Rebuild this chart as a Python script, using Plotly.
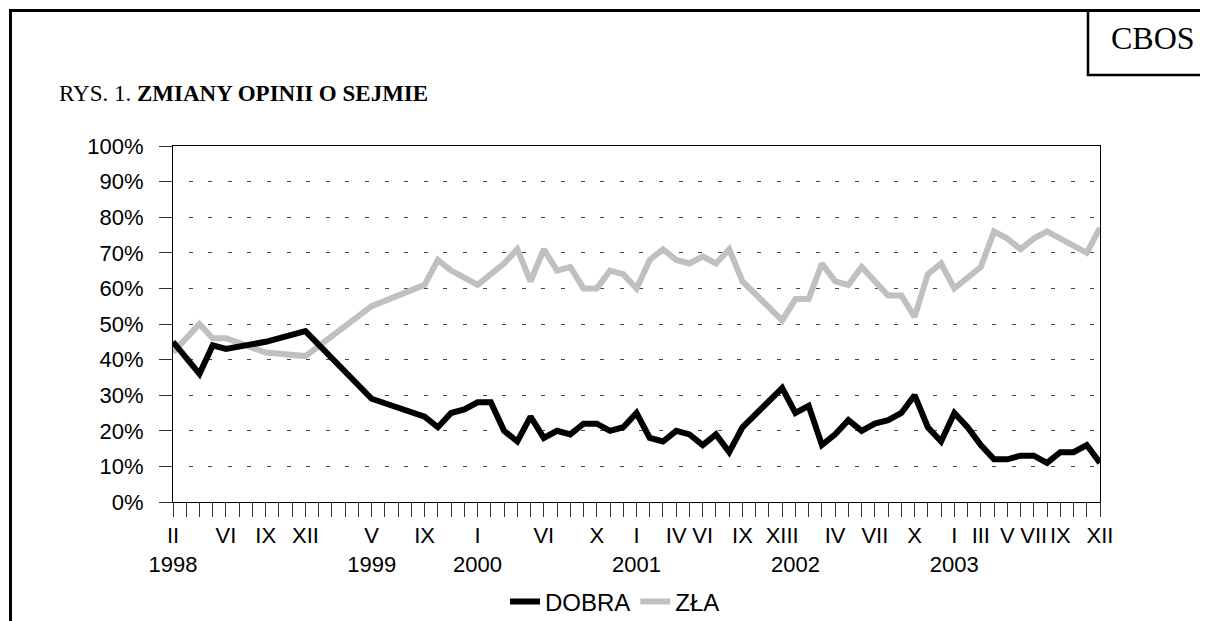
import plotly.graph_objects as go

# ---- data (monthly positions II 1998 .. XII 2003; None = no survey shown) ----
tick_labels = [
    "II<br>1998", "", "", "", "VI", "", "", "IX", "", "", "XII",          # 0-10  (1998)
    "", "", "", "", "V<br>1999", "", "", "", "IX", "", "", "",             # 11-22 (1999)
    "I<br>2000", "", "", "", "", "VI", "", "", "", "X", "", "",            # 23-34 (2000)
    "I<br>2001", "", "", "IV", "", "VI", "", "", "IX", "", "", "XIII",     # 35-46 (2001)
    "\u00a0<br>2002", "", "", "IV", "", "", "VII", "", "", "X", "", "",    # 47-58 (2002)
    "I<br>2003", "", "III", "", "V", "", "VII", "", "IX", "", "", "XII",   # 59-70 (2003)
]

dobra = [
    45, None, 36, 44, 43, None, None, 45, None, None, 48,
    None, None, None, None, 29, None, None, None, 24, 21, 25, 26,
    28, 28, 20, 17, 24, 18, 20, 19, 22, 22, 20, 21,
    25, 18, 17, 20, 19, 16, 19, 14, 21, None, None, 32,
    25, 27, 16, 19, 23, 20, 22, 23, 25, 30, 21, 17,
    25, 21, 16, 12, 12, 13, 13, 11, 14, 14, 16, 11,
]

zla = [
    42, None, 50, 46, 46, None, None, 42, None, None, 41,
    None, None, None, None, 55, None, None, None, 61, 68, 65, 63,
    61, 64, 67, 71, 62, 71, 65, 66, 60, 60, 65, 64,
    60, 68, 71, 68, 67, 69, 67, 71, 62, None, None, 51,
    57, 57, 67, 62, 61, 66, 62, 58, 58, 52, 64, 67,
    60, 63, 66, 76, 74, 71, 74, 76, 74, 72, 70, 77,
]

y_ticks = list(range(0, 101, 10))
y_tick_text = [f"{v}%" for v in y_ticks]

x_pos = list(range(len(tick_labels)))

# ---- layout geometry (pixels, page body has an 8px margin) ----
OFF = 8
W, H = 1208, 650
ML, MT = 173 - OFF, 146 - OFF
PW, PH = 927, 356
MR = W - ML - PW
MB = H - MT - PH

def px(x):  # page pixel x -> paper
    return (x - OFF - ML) / PW

def py(y):  # page pixel y -> paper
    return (MT + PH - (y - OFF)) / PH

SANS = "Liberation Sans, Arial, sans-serif"
SERIF = "Liberation Serif, Times New Roman, serif"

fig = go.Figure()
fig.add_trace(go.Scatter(
    x=x_pos, y=zla, name="ZŁA", mode="lines", connectgaps=True,
    line=dict(color="#c0c0c0", width=6), legendrank=2,
))
fig.add_trace(go.Scatter(
    x=x_pos, y=dobra, name="DOBRA", mode="lines", connectgaps=True,
    line=dict(color="#000000", width=6), legendrank=1,
))

fig.update_layout(
    width=W, height=H,
    margin=dict(l=ML, r=MR, t=MT, b=MB),
    paper_bgcolor="white", plot_bgcolor="white",
    font=dict(family=SANS, size=22, color="black"),
    showlegend=True,
    legend=dict(orientation="h", x=px(615), xanchor="center",
                y=py(602), yanchor="middle",
                font=dict(family=SANS, size=24), itemwidth=30,
                bgcolor="rgba(0,0,0,0)"),
    xaxis=dict(
        range=[0, len(tick_labels) - 1], tickmode="array",
        tickvals=x_pos, ticktext=tick_labels, tickangle=0,
        ticks="outside", ticklen=14, tickwidth=1, tickcolor="#333",
        showline=True, linecolor="black", linewidth=1, mirror=True,
        showgrid=False, zeroline=False,
        tickfont=dict(family=SANS, size=22),
    ),
    yaxis=dict(
        range=[0, 100], tickmode="array", tickvals=y_ticks, ticktext=y_tick_text,
        ticks="outside", ticklen=13, tickwidth=1, tickcolor="#333",
        showline=True, linecolor="black", linewidth=1, mirror=True,
        showgrid=True, gridcolor="#444", gridwidth=1, griddash="0px,15.6px,4px,0px",
        zeroline=False, ticklabelstandoff=11,
        tickfont=dict(family=SANS, size=22),
    ),
)

# outer frame and CBOS box
fig.add_shape(type="rect", xref="paper", yref="paper",
              x0=px(10.5), x1=px(1240), y0=py(10.5), y1=py(700),
              line=dict(color="black", width=3), layer="below")
fig.add_shape(type="rect", xref="paper", yref="paper",
              x0=px(1088), x1=px(1240), y0=py(10.5), y1=py(75),
              line=dict(color="black", width=2.5), layer="below")

fig.add_annotation(text="CBOS", xref="paper", yref="paper",
                   x=px(1153), y=py(37.5), xanchor="center", yanchor="middle",
                   showarrow=False, font=dict(family=SERIF, size=32, color="black"))
fig.add_annotation(text="RYS. 1. <b>ZMIANY OPINII O SEJMIE</b>", xref="paper", yref="paper",
                   x=px(57), y=py(93), xanchor="left", yanchor="middle",
                   showarrow=False, font=dict(family=SERIF, size=23, color="black"))

fig.write_html("out.html")
